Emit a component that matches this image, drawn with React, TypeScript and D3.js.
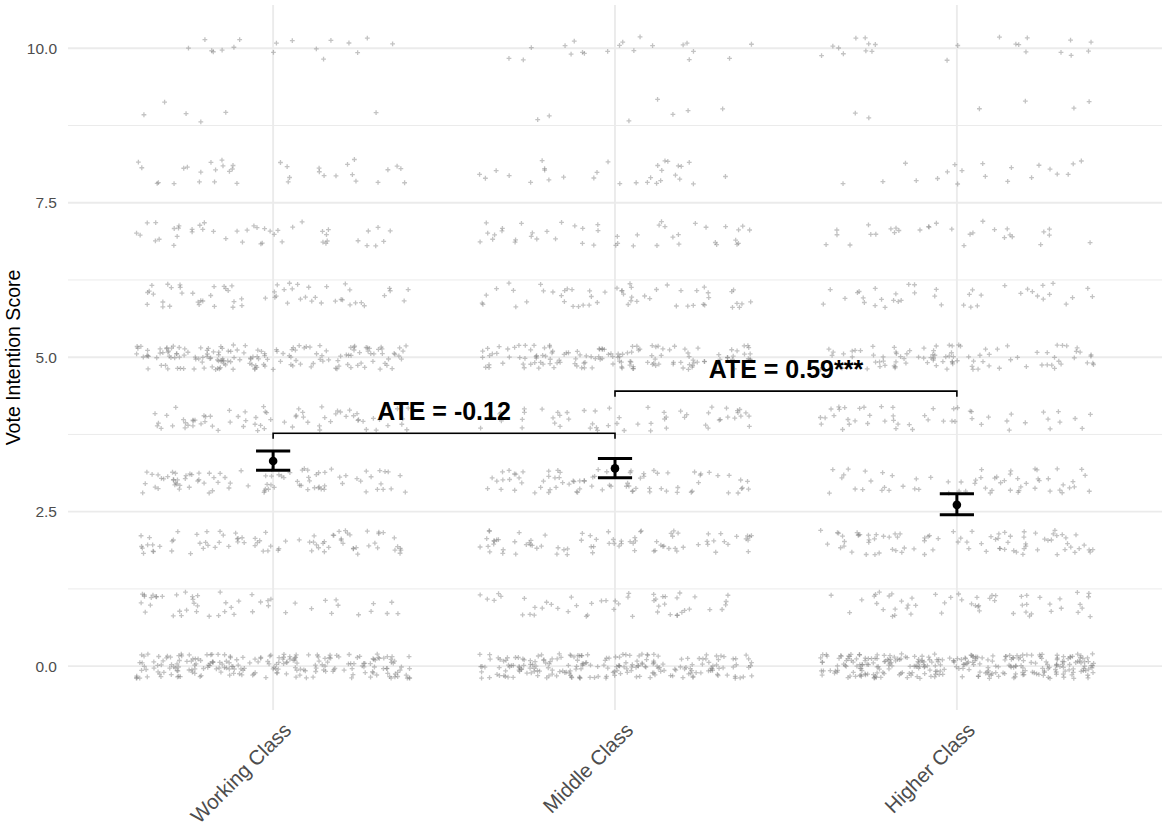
import React, { useMemo } from 'react';
import * as d3 from 'd3';

// Respondent groups and the 0–10 vote intention scale
const classes = ['Working Class', 'Middle Class', 'Higher Class'];
const scores = [0, 1, 2, 3, 4, 5, 6, 7, 8, 9, 10];

// Number of respondents at each score (index = score), per class
const workingCounts = [215, 50, 80, 90, 70, 165, 60, 45, 35, 6, 17];
const middleCounts = [215, 50, 80, 80, 55, 140, 55, 45, 30, 7, 20];
const higherCounts = [290, 55, 85, 60, 50, 95, 40, 30, 20, 6, 22];

// Group means with their confidence bounds
const meanScores = [3.32, 3.2, 2.61];
const ciLower = [3.17, 3.05, 2.45];
const ciUpper = [3.48, 3.36, 2.79];

// Axis ticks
const yTicks = [0, 2.5, 5, 7.5, 10];
const yMinorTicks = [1.25, 3.75, 6.25, 8.75];

// Average treatment effect comparisons
const ateFrom = ['Working Class', 'Middle Class'];
const ateTo = ['Middle Class', 'Higher Class'];
const ateValues = [-0.12, 0.59];
const ateStars = ['', '***'];
const bracketLevels = [3.77, 4.45];

const W = 1165;
const H = 833;
const FONT = "'Liberation Sans', Arial, Helvetica, sans-serif";

export default function App() {
  const x = d3.scalePoint<string>().domain(classes).range([68, 1162]).padding(0.6);
  const y = d3.scaleLinear().domain([-0.71, 10.7]).range([710, 5]);
  const step = x.step();

  const points = useMemo(() => {
    // jitter offsets: fixed seed so the cloud is stable between renders
    const rand = d3.randomUniform.source(d3.randomLcg(0.4271))(-1, 1);
    const all: { cx: number; cy: number }[] = [];
    const countsByClass = [workingCounts, middleCounts, higherCounts];
    classes.forEach((c, ci) => {
      const counts = countsByClass[ci];
      scores.forEach((s, si) => {
        for (let k = 0; k < counts[si]; k++) {
          const jx = rand() * 0.4 * step;
          const jy = rand() * 0.2;
          all.push({ cx: (x(c) as number) + jx, cy: y(s + jy) });
        }
      });
    });
    return all;
  }, [step]);

  const arm = 2.4;

  return (
    <svg
      width={W}
      height={H}
      viewBox={`0 0 ${W} ${H}`}
      style={{ position: 'absolute', left: 0, top: 0, background: '#fff' }}
      fontFamily={FONT}
    >
      {/* grid */}
      <g>
        {yMinorTicks.map((t) => (
          <line key={`mn${t}`} x1={68} x2={1162} y1={y(t)} y2={y(t)} stroke="#ebebeb" strokeWidth={1} />
        ))}
        {yTicks.map((t) => (
          <line key={`mj${t}`} x1={68} x2={1162} y1={y(t)} y2={y(t)} stroke="#ebebeb" strokeWidth={1.9} />
        ))}
        {classes.map((c) => (
          <line key={`vx${c}`} x1={x(c)} x2={x(c)} y1={5} y2={710} stroke="#ebebeb" strokeWidth={1.9} />
        ))}
      </g>

      {/* jittered responses */}
      <g stroke="#7a7a7a" strokeOpacity={0.45} strokeWidth={1.3} fill="none">
        {points.map((p, i) => (
          <path
            key={i}
            d={`M${p.cx - arm},${p.cy}h${arm * 2}M${p.cx},${p.cy - arm}v${arm * 2}`}
          />
        ))}
      </g>

      {/* group means with confidence intervals */}
      <g stroke="#000" strokeWidth={3}>
        {classes.map((c, i) => {
          const cx = x(c) as number;
          const hw = 0.05 * step;
          return (
            <g key={`eb${c}`}>
              <line x1={cx} x2={cx} y1={y(ciLower[i])} y2={y(ciUpper[i])} />
              <line x1={cx - hw} x2={cx + hw} y1={y(ciLower[i])} y2={y(ciLower[i])} />
              <line x1={cx - hw} x2={cx + hw} y1={y(ciUpper[i])} y2={y(ciUpper[i])} />
              <circle cx={cx} cy={y(meanScores[i])} r={4.3} fill="#000" stroke="none" />
            </g>
          );
        })}
      </g>

      {/* ATE brackets */}
      {ateValues.map((v, i) => {
        const x1 = x(ateFrom[i]) as number;
        const x2 = x(ateTo[i]) as number;
        const by = y(bracketLevels[i]);
        const tick = y(bracketLevels[i] - 0.09);
        return (
          <g key={`ate${i}`}>
            <path
              d={`M${x1},${tick}V${by}H${x2}V${tick}`}
              fill="none"
              stroke="#000"
              strokeWidth={1.6}
            />
            <text
              x={(x1 + x2) / 2}
              y={y(bracketLevels[i] + 0.22)}
              textAnchor="middle"
              fontWeight="bold"
              fontSize={25}
              fill="#000"
            >
              {`ATE = ${v.toFixed(2)}${ateStars[i]}`}
            </text>
          </g>
        );
      })}

      {/* y axis */}
      <g fontSize={15.5} fill="#4d4d4d">
        {yTicks.map((t) => (
          <text key={`yt${t}`} x={57} y={y(t)} dy="0.35em" textAnchor="end">
            {t.toFixed(1)}
          </text>
        ))}
      </g>
      <text
        transform={`translate(20,${(5 + 710) / 2}) rotate(-90)`}
        textAnchor="middle"
        fontSize={19.5}
        fill="#000"
      >
        Vote Intention Score
      </text>

      {/* x axis labels */}
      <g fontSize={20.5} fill="#4d4d4d">
        {classes.map((c) => {
          const px = (x(c) as number) + 9;
          const py = 721;
          return (
            <text
              key={`xl${c}`}
              x={px}
              y={py}
              dy="0.72em"
              textAnchor="end"
              transform={`rotate(-45,${px},${py})`}
            >
              {c}
            </text>
          );
        })}
      </g>
    </svg>
  );
}
